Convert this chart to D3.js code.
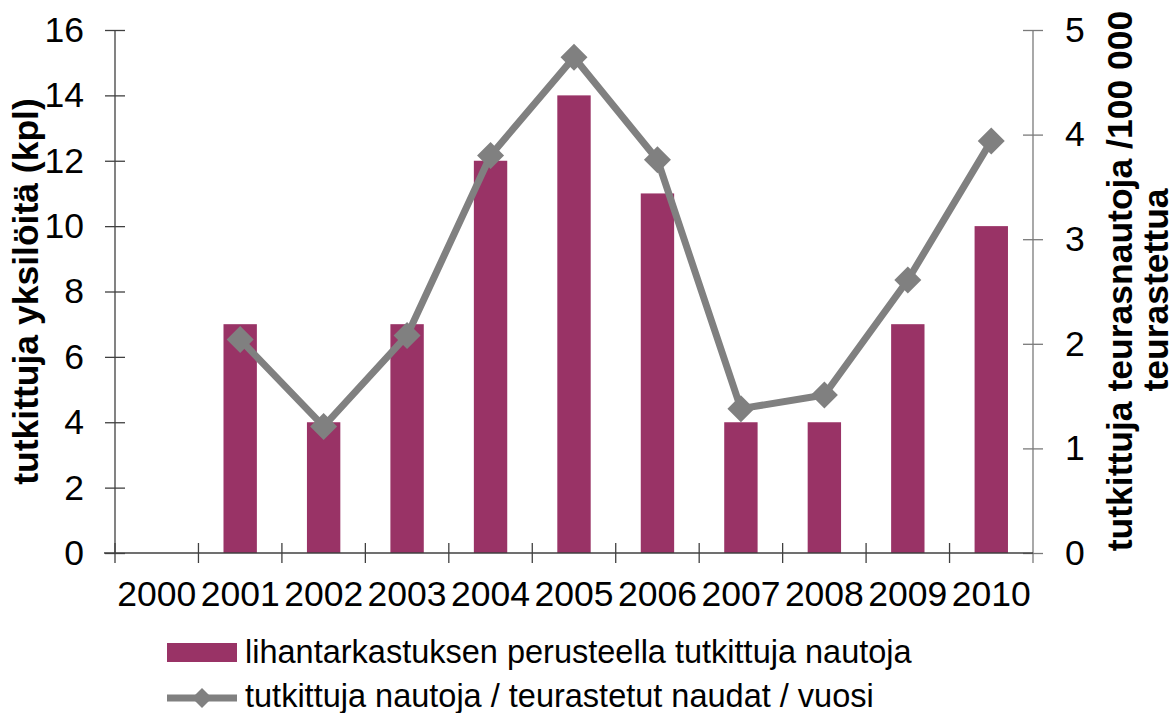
<!DOCTYPE html>
<html>
<head>
<meta charset="utf-8">
<script src="https://cdn.jsdelivr.net/npm/d3@7"></script>
<style>
  html, body { margin: 0; padding: 0; background: #fff; }
  svg { display: block; font-family: "Liberation Sans", Arial, sans-serif; }
</style>
</head>
<body>
<svg id="chart" width="1176" height="713"></svg>
<script>
// Years on the category axis
const years = ["2000", "2001", "2002", "2003", "2004", "2005", "2006", "2007", "2008", "2009", "2010"];
// Cattle examined on the basis of meat inspection (count)
const examined = [0, 7, 4, 7, 12, 14, 11, 4, 4, 7, 10];
// Examined cattle per 100 000 slaughtered, per year (null = no data)
const perSlaughtered = [null, 2.04, 1.21, 2.08, 3.80, 4.74, 3.76, 1.38, 1.51, 2.61, 3.94];
// Axis tick values
const leftTicks = [0, 2, 4, 6, 8, 10, 12, 14, 16];
const rightTicks = [0, 1, 2, 3, 4, 5];

const barLabel = "lihantarkastuksen perusteella tutkittuja nautoja";
const lineLabel = "tutkittuja nautoja / teurastetut naudat / vuosi";
const leftTitle = "tutkittuja yksilöitä (kpl)";
const rightTitle = ["tutkittuja teurasnautoja /100 000", "teurastettua"];

const barColor = "#993366";
const lineColor = "#808080";
const axisDark = "#404040";
const tickFont = 35.5;

const svg = d3.select("#chart");
const plotL = 115, plotR = 1033, plotT = 30, plotB = 553;

const x = d3.scaleBand().domain(years).range([plotL, plotR]).padding(0);
const yL = d3.scaleLinear().domain([0, 16]).range([plotB, plotT]);
const yR = d3.scaleLinear().domain([0, 5]).range([plotB, plotT]);

const barW = x.bandwidth() * 0.4;

// Bars
svg.append("g").selectAll("rect")
  .data(years.map((y, i) => ({ year: y, v: examined[i] })).filter(d => d.v > 0))
  .join("rect")
  .attr("x", d => x(d.year) + (x.bandwidth() - barW) / 2)
  .attr("width", barW)
  .attr("y", d => yL(d.v))
  .attr("height", d => yL(0) - yL(d.v))
  .attr("fill", barColor);

// Left axis
const gL = svg.append("g")
  .attr("transform", `translate(${plotL},0)`)
  .call(d3.axisLeft(yL).tickValues(leftTicks).tickSize(10).tickPadding(21).tickFormat(d3.format("d")));
gL.select(".domain").attr("stroke", axisDark).attr("stroke-width", 1.3).attr("d", `M0,${plotT}V${plotB}`);
gL.selectAll(".tick line").attr("x1", 10).attr("x2", -10).attr("stroke", axisDark).attr("stroke-width", 1.3);
gL.selectAll(".tick text").attr("font-size", tickFont).attr("fill", "#000");

// Right axis
const gR = svg.append("g")
  .attr("transform", `translate(${plotR},0)`)
  .call(d3.axisRight(yR).tickValues(rightTicks).tickSize(10).tickPadding(22).tickFormat(d3.format("d")));
gR.select(".domain").attr("stroke", "#7a7a7a").attr("stroke-width", 1.3).attr("d", `M0,${plotT}V${plotB + 10}`);
gR.selectAll(".tick line").attr("x1", -10).attr("x2", 10).attr("stroke", "#7a7a7a").attr("stroke-width", 1.3);
gR.selectAll(".tick text").attr("font-size", tickFont).attr("fill", "#000");

// Bottom axis: labels centred in bands, ticks on band boundaries
const gB = svg.append("g")
  .attr("transform", `translate(0,${plotB})`)
  .call(d3.axisBottom(x).tickSize(0).tickPadding(28));
gB.select(".domain").attr("stroke", axisDark).attr("stroke-width", 1.3).attr("d", `M${plotL - 11},0H${plotR}`);
gB.selectAll(".tick text").attr("font-size", tickFont).attr("fill", "#000");
const bounds = years.map(y => x(y));
gB.selectAll("line.bound")
  .data(bounds)
  .join("line")
  .attr("class", "bound")
  .attr("x1", d => d).attr("x2", d => d)
  .attr("y1", -10).attr("y2", 10)
  .attr("stroke", axisDark).attr("stroke-width", 1.3);

// Line series on the right axis
const pts = years.map((y, i) => ({ year: y, v: perSlaughtered[i] })).filter(d => d.v != null);
const line = d3.line()
  .x(d => x(d.year) + x.bandwidth() / 2)
  .y(d => yR(d.v));
svg.append("path")
  .datum(pts)
  .attr("d", line)
  .attr("fill", "none")
  .attr("stroke", lineColor)
  .attr("stroke-width", 7)
  .attr("stroke-linejoin", "round");

const diamond = r => `M0,${-r}L${r},0L0,${r}L${-r},0Z`;
svg.append("g").selectAll("path")
  .data(pts)
  .join("path")
  .attr("transform", d => `translate(${x(d.year) + x.bandwidth() / 2},${yR(d.v)})`)
  .attr("d", diamond(13.5))
  .attr("fill", lineColor);

// Axis titles
svg.append("text")
  .attr("transform", `translate(38,${(plotT + plotB) / 2}) rotate(-90)`)
  .attr("text-anchor", "middle")
  .attr("font-size", 35.5)
  .attr("font-weight", "bold")
  .text(leftTitle);

svg.append("text")
  .attr("transform", `translate(1132,281) rotate(-90)`)
  .attr("text-anchor", "middle")
  .attr("font-size", 35.5)
  .attr("font-weight", "bold")
  .text(rightTitle[0]);
svg.append("text")
  .attr("transform", `translate(1168,290) rotate(-90)`)
  .attr("text-anchor", "middle")
  .attr("font-size", 35.5)
  .attr("font-weight", "bold")
  .text(rightTitle[1]);

// Legend
const lg = svg.append("g");
lg.append("rect")
  .attr("x", 167).attr("y", 643).attr("width", 70).attr("height", 19)
  .attr("fill", barColor);
lg.append("text")
  .attr("x", 245).attr("y", 663)
  .attr("font-size", 32.5).attr("fill", "#000")
  .text(barLabel);
lg.append("line")
  .attr("x1", 167).attr("x2", 237).attr("y1", 698).attr("y2", 698)
  .attr("stroke", lineColor).attr("stroke-width", 7);
lg.append("path")
  .attr("transform", "translate(202,698)")
  .attr("d", diamond(10))
  .attr("fill", lineColor);
lg.append("text")
  .attr("x", 245).attr("y", 707)
  .attr("font-size", 32.5).attr("fill", "#000")
  .text(lineLabel);
</script>
</body>
</html>
